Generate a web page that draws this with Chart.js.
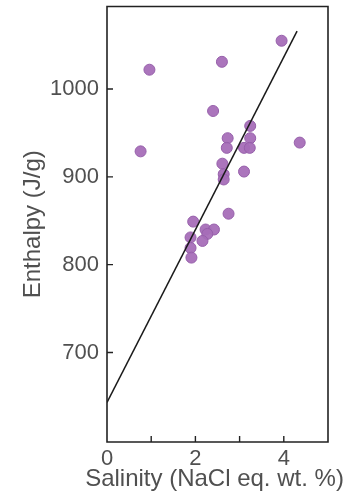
<!DOCTYPE html>
<html>
<head>
<meta charset="utf-8">
<script src="https://cdn.jsdelivr.net/npm/chart.js@4.4.1/dist/chart.umd.min.js"></script>
<style>
  html, body { margin: 0; padding: 0; background: #fff; overflow: hidden; }
  #wrap { width: 361px; height: 497px; position: relative; }
</style>
</head>
<body>
<div id="wrap"><canvas id="c"></canvas></div>
<script>
// Data
const salinity = [3.95, 2.60, 0.96, 2.40, 3.24, 2.73, 3.24, 4.36, 0.76, 2.71, 3.10, 3.23,
                  2.61, 3.10, 2.64, 2.64, 2.75, 1.95, 2.23, 2.42, 2.27, 1.89, 2.16, 1.89, 1.91];
const enthalpy = [1055, 1031, 1022, 975, 958, 944, 944, 939, 929, 933, 933, 933,
                  915, 906, 903, 897, 858, 849, 840, 840, 835, 831, 827, 819, 808];
const fitX = [0, 4.3];
const fitY = [643, 1066];
const xTicks = [0, 1, 2, 3, 4, 5];
const yTicks = [700, 800, 900, 1000];
const xTitle = 'Salinity (NaCl eq. wt. %)';

const ink = '#222';
const textGray = '#505050';
const font = '"Liberation Sans", Arial, Helvetica, sans-serif';

// box frame + inward tick marks + x title (chart.js squeezes it to the scale width)
const framePlugin = {
  id: 'frame',
  afterDatasetsDraw(chart) {
    const { ctx, chartArea: a, scales } = chart;
    ctx.save();
    ctx.strokeStyle = ink;
    ctx.lineWidth = 1.6;
    ctx.beginPath();
    ctx.rect(a.left, a.top, a.right - a.left, a.bottom - a.top);
    ctx.stroke();
    ctx.lineWidth = 1.4;
    ctx.beginPath();
    xTicks.slice(1, -1).forEach(v => {
      const px = scales.x.getPixelForValue(v);
      ctx.moveTo(px, a.bottom);
      ctx.lineTo(px, a.bottom - 6);
    });
    yTicks.forEach(v => {
      const py = scales.y.getPixelForValue(v);
      ctx.moveTo(a.left, py);
      ctx.lineTo(a.left + 6, py);
    });
    ctx.stroke();

    ctx.fillStyle = textGray;
    ctx.font = '24px ' + font;
    ctx.textAlign = 'center';
    ctx.textBaseline = 'middle';
    ctx.fillText(xTitle, (a.left + a.right) / 2 - 3, chart.height - 18);
    ctx.restore();
  }
};

new Chart(document.getElementById('c'), {
  type: 'scatter',
  data: {
    datasets: [
      {
        type: 'line',
        data: fitX.map((x, i) => ({ x, y: fitY[i] })),
        borderColor: '#1a1a1a',
        borderWidth: 1.5,
        pointRadius: 0,
        fill: false,
        order: 0
      },
      {
        data: salinity.map((x, i) => ({ x, y: enthalpy[i] })),
        backgroundColor: 'rgba(166, 110, 184, 0.95)',
        borderColor: 'rgba(150, 95, 170, 1)',
        borderWidth: 1,
        pointRadius: 5.5,
        order: 1
      }
    ]
  },
  plugins: [framePlugin],
  options: {
    responsive: true,
    maintainAspectRatio: false,
    animation: false,
    layout: { padding: { left: 0, right: 33, top: 5, bottom: 0 } },
    plugins: { legend: { display: false }, tooltip: { enabled: false } },
    scales: {
      x: {
        type: 'linear',
        min: 0,
        max: 5,
        afterBuildTicks: s => { s.ticks = xTicks.map(v => ({ value: v })); },
        afterFit: s => { s.height = 55; s.paddingLeft = 0; s.paddingRight = 0; },
        grid: { display: false, drawTicks: false },
        border: { display: false },
        ticks: {
          padding: 4,
          color: textGray,
          font: { family: font, size: 22 },
          callback: v => (v % 2 === 0 && v < 5 ? String(v) : '')
        },
        title: { display: false }
      },
      y: {
        type: 'linear',
        min: 598,
        max: 1094,
        afterBuildTicks: s => { s.ticks = yTicks.map(v => ({ value: v })); },
        afterFit: s => { s.width = 107; s.paddingTop = 0; s.paddingBottom = 0; },
        grid: { display: false, drawTicks: false },
        border: { display: false },
        ticks: {
          padding: 8,
          color: textGray,
          font: { family: font, size: 22 },
          callback: v => String(v)
        },
        title: {
          display: true,
          text: 'Enthalpy (J/g)',
          color: textGray,
          font: { family: font, size: 24 },
          padding: { top: 19, bottom: 0 }
        }
      }
    }
  }
});
</script>
</body>
</html>
